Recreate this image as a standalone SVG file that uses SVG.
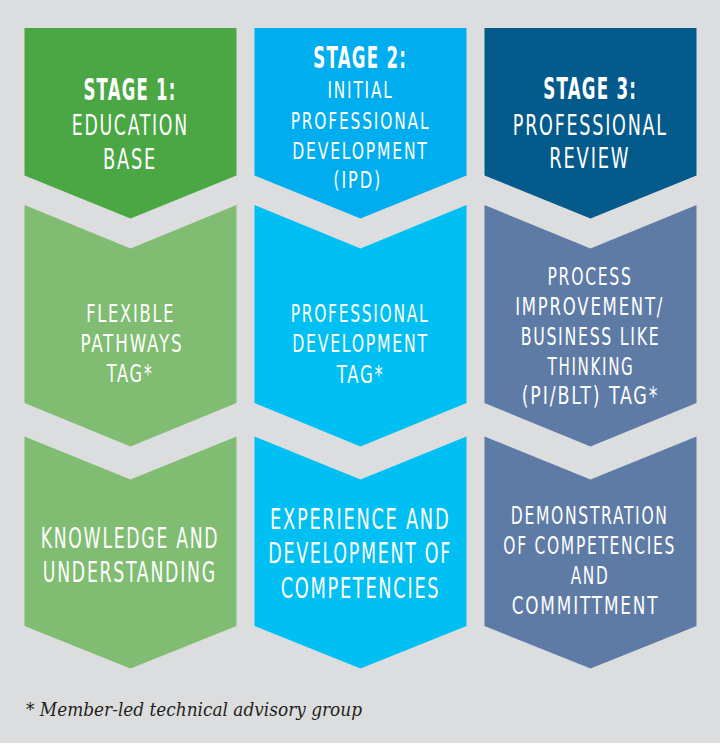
<svg xmlns="http://www.w3.org/2000/svg" width="720" height="746" viewBox="0 0 720 746">
  <style>
    .t { font-family: "Liberation Sans Narrow", "DejaVu Sans Condensed", "Liberation Sans", Arial, sans-serif; font-stretch: condensed; fill: #ffffff; text-anchor: middle; letter-spacing: 2.5px; }
    .b { font-weight: bold; font-size: 30px; letter-spacing: 2px; }
    .r28 { font-size: 28px; }
    .r25 { font-size: 25.5px; }
    .r24 { font-size: 23.5px; }
    .r29 { font-size: 29px; }
    .note { font-family: "DejaVu Serif", "Liberation Serif", serif; font-style: italic; font-size: 18px; fill: #231f20; }
    .g1 { fill: #4aa744; }
    .g2 { fill: #80bd72; }
    .c1 { fill: #00adef; }
    .c2 { fill: #00bff2; }
    .n1 { fill: #055a8c; }
    .n2 { fill: #5e7ba6; }
  </style>
  <rect x="0" y="0" width="720" height="746" fill="#ffffff"/>
  <rect x="0" y="0" width="720" height="743" fill="#dcdddf"/>

  <g id="connectors"></g>

  <!-- Column 1 -->
  <g id="stage1-head">
    <polygon class="g1" points="24.5,28 236.5,28 236.5,175.5 130.5,218.5 24.5,175.5"/>
    <text class="t b" x="130" y="100" textLength="93" lengthAdjust="spacingAndGlyphs">STAGE 1:</text>
    <text class="t r28" x="130.3" y="135" textLength="117" lengthAdjust="spacingAndGlyphs">EDUCATION</text>
    <text class="t r28" x="130" y="169" textLength="54" lengthAdjust="spacingAndGlyphs">BASE</text>
  </g>
  <g id="stage1-tag">
    <polygon class="g2" points="24.5,205 130.5,248.5 236.5,205 236.5,403 130.5,446.5 24.5,403"/>
    <text class="t r25" x="130.7" y="321.7" textLength="89" lengthAdjust="spacingAndGlyphs">FLEXIBLE</text>
    <text class="t r25" x="132" y="351.7" textLength="103" lengthAdjust="spacingAndGlyphs">PATHWAYS</text>
    <text class="t r25" x="130.2" y="381.7" textLength="47" lengthAdjust="spacingAndGlyphs">TAG*</text>
  </g>
  <g id="stage1-outcome">
    <polygon class="g2" points="24.5,436.5 130.5,479.5 236.5,436.5 236.5,626 130.5,668.5 24.5,626"/>
    <text class="t r28" x="130" y="547.7" textLength="178.6" lengthAdjust="spacingAndGlyphs">KNOWLEDGE AND</text>
    <text class="t r28" x="129.8" y="582.3" textLength="174" lengthAdjust="spacingAndGlyphs">UNDERSTANDING</text>
  </g>

  <!-- Column 2 -->
  <g id="stage2-head">
    <polygon class="c1" points="254.5,28 466.5,28 466.5,175.5 360.5,218.5 254.5,175.5"/>
    <text class="t b" x="360.2" y="68.3" textLength="94" lengthAdjust="spacingAndGlyphs">STAGE 2:</text>
    <text class="t r24" x="360.5" y="98.3" textLength="66" lengthAdjust="spacingAndGlyphs">INITIAL</text>
    <text class="t r24" x="360.5" y="129.3" textLength="139.6" lengthAdjust="spacingAndGlyphs">PROFESSIONAL</text>
    <text class="t r24" x="360.5" y="159.3" textLength="136.4" lengthAdjust="spacingAndGlyphs">DEVELOPMENT</text>
    <text class="t r24" x="357.7" y="188.3" textLength="49" lengthAdjust="spacingAndGlyphs">(IPD)</text>
  </g>
  <g id="stage2-tag">
    <polygon class="c2" points="254.5,205 360.5,248.5 466.5,205 466.5,403 360.5,446.5 254.5,403"/>
    <text class="t r25" x="360" y="321.7" textLength="138.6" lengthAdjust="spacingAndGlyphs">PROFESSIONAL</text>
    <text class="t r25" x="360.5" y="351.7" textLength="136.4" lengthAdjust="spacingAndGlyphs">DEVELOPMENT</text>
    <text class="t r25" x="360.7" y="382.7" textLength="48" lengthAdjust="spacingAndGlyphs">TAG*</text>
  </g>
  <g id="stage2-outcome">
    <polygon class="c2" points="254.5,436.5 360.5,479.5 466.5,436.5 466.5,626 360.5,668.5 254.5,626"/>
    <text class="t r29" x="360.2" y="529.3" textLength="180.3" lengthAdjust="spacingAndGlyphs">EXPERIENCE AND</text>
    <text class="t r29" x="360.2" y="562.7" textLength="183.7" lengthAdjust="spacingAndGlyphs">DEVELOPMENT OF</text>
    <text class="t r29" x="360.5" y="598.3" textLength="159.7" lengthAdjust="spacingAndGlyphs">COMPETENCIES</text>
  </g>

  <!-- Column 3 -->
  <g id="stage3-head">
    <polygon class="n1" points="484.5,28 696.5,28 696.5,175.5 590.5,218.5 484.5,175.5"/>
    <text class="t b" x="590.2" y="99" textLength="94" lengthAdjust="spacingAndGlyphs">STAGE 3:</text>
    <text class="t r28" x="590.3" y="135" textLength="155" lengthAdjust="spacingAndGlyphs">PROFESSIONAL</text>
    <text class="t r28" x="589.8" y="168.3" textLength="81" lengthAdjust="spacingAndGlyphs">REVIEW</text>
  </g>
  <g id="stage3-tag">
    <polygon class="n2" points="484.5,205 590.5,248.5 696.5,205 696.5,403 590.5,446.5 484.5,403"/>
    <text class="t r25" x="590" y="285" textLength="85" lengthAdjust="spacingAndGlyphs">PROCESS</text>
    <text class="t r25" x="589.7" y="315" textLength="149" lengthAdjust="spacingAndGlyphs">IMPROVEMENT/</text>
    <text class="t r25" x="590.5" y="345" textLength="139.7" lengthAdjust="spacingAndGlyphs">BUSINESS LIKE</text>
    <text class="t r25" x="591" y="375" textLength="87" lengthAdjust="spacingAndGlyphs">THINKING</text>
    <text class="t r25" x="590.5" y="404" textLength="137.7" lengthAdjust="spacingAndGlyphs">(PI/BLT) TAG*</text>
  </g>
  <g id="stage3-outcome">
    <polygon class="n2" points="484.5,436.5 590.5,479.5 696.5,436.5 696.5,626 590.5,668.5 484.5,626"/>
    <text class="t r25" x="589.7" y="524.3" textLength="158" lengthAdjust="spacingAndGlyphs">DEMONSTRATION</text>
    <text class="t r25" x="589.7" y="554.3" textLength="172.7" lengthAdjust="spacingAndGlyphs">OF COMPETENCIES</text>
    <text class="t r25" x="590" y="584.3" textLength="38.7" lengthAdjust="spacingAndGlyphs">AND</text>
    <text class="t r25" x="585.5" y="614.3" textLength="147.7" lengthAdjust="spacingAndGlyphs">COMMITTMENT</text>
  </g>

  <g id="footnote">
    <text class="note" x="26" y="715.7" textLength="336" lengthAdjust="spacingAndGlyphs">* Member-led technical advisory group</text>
  </g>
</svg>
